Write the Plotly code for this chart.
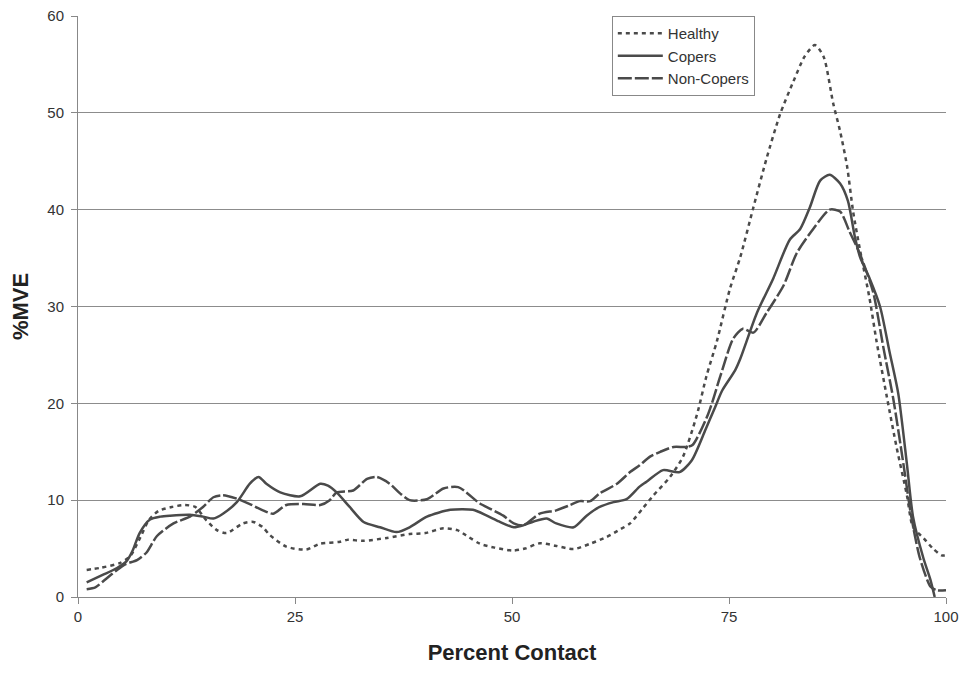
import plotly.graph_objects as go

# ---- data ----
healthy_x = [1, 2.5, 4.8, 6.0, 7.2, 8.2, 9.3, 10.8, 12.3, 13.5, 14.8, 16.0, 17.1, 19.0, 20.2, 21.3,
             22.1, 24.0, 26.3, 27.9, 30.2, 31.0, 32.9, 35.6, 38.2, 40.0, 42.1, 43.7, 45.0, 46.3,
             48.0, 50.1, 51.5, 53.2, 55.0, 57.1, 59.0, 60.9, 62.5, 63.6, 65.1, 66.3, 68.2, 69.7,
             71.3, 72.4, 73.6, 75.1, 76.3, 77.8, 79.3, 80.9, 82.4, 83.7, 84.9, 85.9, 87.0, 87.8,
             88.6, 89.3, 90.1, 91.2, 92.0, 93.2, 94.3, 95.5, 96.2, 97.4, 98.5, 99.5, 100]
healthy_y = [2.8, 3.0, 3.5, 4.2, 6.2, 8.0, 8.9, 9.3, 9.5, 9.3, 7.9, 6.9, 6.6, 7.6, 7.75, 7.2,
             6.4, 5.2, 4.9, 5.5, 5.7, 5.9, 5.8, 6.1, 6.5, 6.6, 7.1, 6.9, 6.2, 5.5,
             5.1, 4.8, 5.0, 5.55, 5.3, 4.95, 5.5, 6.2, 7.0, 7.6, 9.2, 10.5, 12.4, 14.5,
             18.8, 22.8, 26.4, 31.8, 35.1, 40.2, 45.2, 49.9, 53.2, 55.8, 57.0, 55.8, 51.0, 48.1,
             44.5, 39.8, 35.8, 30.8, 26.4, 20.6, 15.5, 10.5, 7.2, 6.1, 5.0, 4.3, 4.3]

copers_x = [1, 2.9, 4.5, 5.6, 6.3, 7.1, 8.3, 9.5, 10.6, 12.9, 14.4, 15.6, 16.7, 18.3, 19.8, 20.8,
            21.7, 23.3, 25.6, 27.9, 28.8, 29.8, 31.3, 32.9, 34.8, 36.7, 38.2, 40.2, 42.9, 45.5,
            47.1, 48.5, 50.2, 51.3, 52.5, 54.0, 55.1, 57.1, 58.6, 60.1, 61.7, 63.2, 64.7, 65.5,
            67.4, 69.3, 70.7, 72.3, 73.4, 74.2, 75.7, 76.3, 78.2, 80.1, 82.0, 83.2, 84.3, 85.5,
            86.6, 87.8, 88.7, 89.5, 90.1, 91.2, 92.4, 93.5, 94.5, 95.5, 96.2, 97.4, 98.2, 98.7]
copers_y = [1.5, 2.3, 3.0, 3.7, 4.8, 6.6, 8.0, 8.3, 8.4, 8.5, 8.3, 8.1, 8.6, 9.8, 11.7, 12.4,
            11.7, 10.8, 10.4, 11.7, 11.5, 10.8, 9.3, 7.75, 7.2, 6.7, 7.2, 8.3, 9.0, 9.0,
            8.4, 7.8, 7.2, 7.4, 7.8, 8.1, 7.6, 7.2, 8.4, 9.3, 9.8, 10.1, 11.4, 11.9,
            13.1, 12.9, 14.1, 17.3, 19.6, 21.3, 23.4, 24.6, 29.3, 32.9, 36.9, 38.0, 40.2, 43.0,
            43.6, 42.7, 40.9, 37.2, 35.1, 32.9, 30.0, 25.3, 21.0, 13.7, 8.3, 4.0, 1.8, 0.0]

noncopers_x = [1, 2, 3, 4.5, 5.5, 6.8, 7.9, 9.1, 11.0, 12.9, 14.4, 15.6, 16.7, 18.3, 19.8, 21.3,
               22.5, 24.0, 26.0, 27.9, 29.0, 29.8, 31.7, 33.3, 34.4, 35.9, 37.1, 38.2, 40.2, 42.1,
               43.8, 46.3, 47.5, 49.0, 50.2, 51.3, 53.2, 55.1, 56.7, 57.8, 59.0, 60.1, 62.1, 63.6,
               64.7, 65.9, 67.1, 68.6, 70.1, 70.8, 72.6, 74.0, 75.5, 76.6, 77.8, 79.3, 81.3, 82.8,
               84.7, 86.6, 87.8, 88.9, 90.1, 91.6, 92.8, 93.9, 95.1, 96.0, 97.0, 98.2, 98.9, 100]
noncopers_y = [0.8, 1.0, 1.7, 2.8, 3.4, 3.8, 4.6, 6.3, 7.6, 8.3, 9.3, 10.3, 10.5, 10.15, 9.6, 8.95,
               8.6, 9.5, 9.6, 9.5, 10.0, 10.8, 11.0, 12.2, 12.4, 11.7, 10.7, 10.0, 10.1, 11.2,
               11.35, 9.65, 9.1, 8.4, 7.6, 7.4, 8.6, 8.95, 9.5, 9.9, 9.9, 10.7, 11.7, 12.9,
               13.6, 14.5, 15.0, 15.5, 15.5, 15.7, 18.9, 22.8, 26.7, 27.7, 27.3, 29.3, 32.2, 35.5,
               38.0, 40.0, 39.8, 37.7, 35.4, 31.5, 25.7, 20.6, 13.7, 8.3, 4.0, 1.1, 0.7, 0.7]

x_ticks = [0, 25, 50, 75, 100]
y_ticks = [0, 10, 20, 30, 40, 50, 60]

LINE = "#4a4a4a"
fig = go.Figure()
fig.add_trace(go.Scatter(x=healthy_x, y=healthy_y, name="Healthy", mode="lines",
                         line=dict(color=LINE, width=2.5, dash="4px,4px", shape="spline", smoothing=0.7)))
fig.add_trace(go.Scatter(x=copers_x, y=copers_y, name="Copers", mode="lines",
                         line=dict(color=LINE, width=2.5, shape="spline", smoothing=0.7)))
fig.add_trace(go.Scatter(x=noncopers_x, y=noncopers_y, name="Non-Copers", mode="lines",
                         line=dict(color=LINE, width=2.5, dash="14px,3px", shape="spline", smoothing=0.7)))

fig.update_layout(
    width=960, height=665,
    margin=dict(l=70, r=22, t=8, b=76, autoexpand=False),
    paper_bgcolor="white", plot_bgcolor="white",
    font=dict(family="Liberation Sans, Arial, sans-serif", size=15, color="#333333"),
    showlegend=True,
    legend=dict(x=0.615, y=1.0, xanchor="left", yanchor="top",
                bgcolor="white", bordercolor="#888888", borderwidth=1,
                itemwidth=45,
                font=dict(size=15, color="#333333")),
    xaxis=dict(range=[0, 100], tickvals=x_ticks, showgrid=False, zeroline=False,
               showline=True, linecolor="#888888", linewidth=1,
               ticks="outside", ticklen=6, tickcolor="#888888", ticklabeloverflow="allow",
               title=dict(text="<b>Percent Contact</b>", font=dict(size=22, color="#222222"), standoff=20)),
    yaxis=dict(range=[0, 60], tickvals=y_ticks, showgrid=True, gridcolor="#8c8c8c", gridwidth=1,
               zeroline=False, showline=True, linecolor="#888888", linewidth=1,
               ticks="outside", ticklen=6, tickcolor="#888888", ticklabelstandoff=4,
               ticklabeloverflow="allow",
               title=dict(text="<b>%MVE</b>", font=dict(size=22, color="#222222"), standoff=16)),
)

fig.write_html("out.html")
